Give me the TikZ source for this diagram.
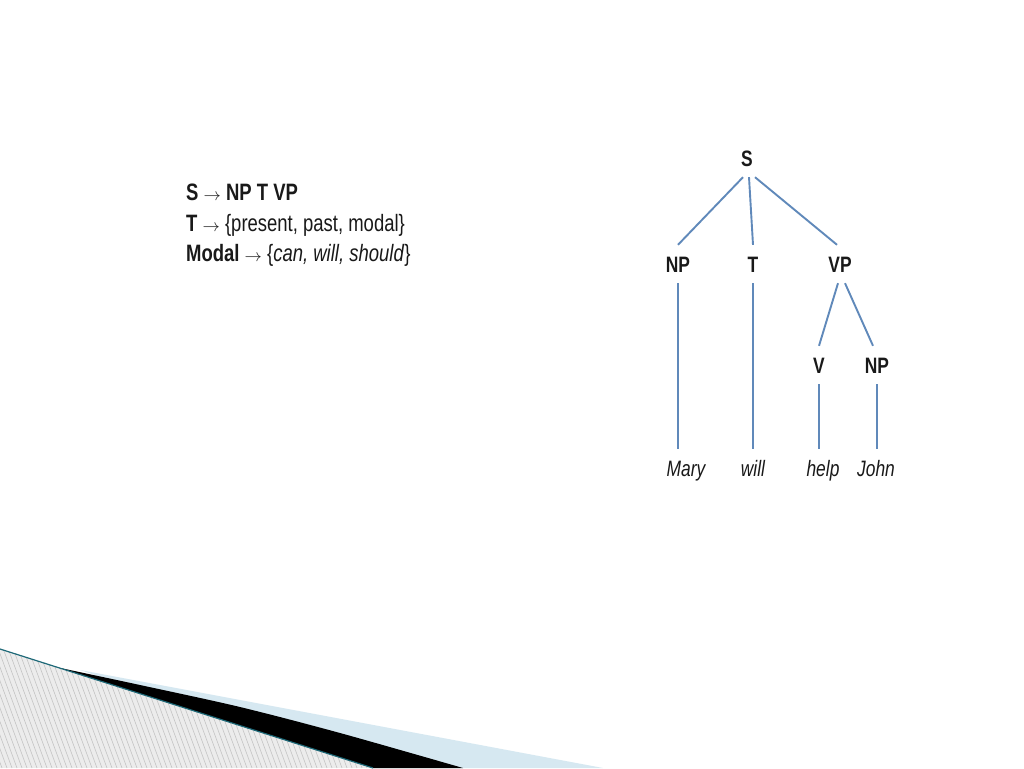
\documentclass[tikz,border=0pt]{standalone}
\usepackage{fontspec}
\newfontfamily\arialn[FakeStretch=0.78]{Liberation Sans}
\definecolor{treeblue}{RGB}{96,137,186}
\definecolor{txt}{RGB}{25,25,25}
\definecolor{hatchbg}{RGB}{236,236,236}
\definecolor{hatchln}{RGB}{196,196,196}
\definecolor{lightblue}{RGB}{214,232,241}
\definecolor{tealedge}{RGB}{30,105,120}
\tikzset{
  rule/.style={anchor=base west, inner sep=0pt, text=txt,
    font=\arialn\fontsize{23.7}{30}\selectfont},
  tlab/.style={text=txt, inner xsep=1pt, inner ysep=11pt,
    text height=16pt, text depth=0pt,
    font=\arialn\bfseries\fontsize{22.3}{22}\selectfont},
  tword/.style={tlab, font=\arialn\itshape\fontsize{22.3}{22}\selectfont},
  branch/.style={draw=treeblue, line width=1.9pt},
}
\newcommand{\ruar}{{\fontsize{17}{17}\selectfont$\rightarrow$}}
\begin{document}
\begin{tikzpicture}[x=1pt,y=-1pt]
\useasboundingbox (0,0) rectangle (1024,768);
\fill[white] (0,0) rectangle (1024,768);
% bottom-left decoration
\begin{scope}
  \clip (0,649) -- (373,768) -- (0,768) -- cycle;
  \fill[hatchbg] (0,640) rectangle (380,768);
  \foreach \i in {-60,-55,...,390} \draw[hatchln, line width=0.6pt] (\i,640) -- (\i+47,768);
\end{scope}
\fill[lightblue] (80,670) -- (603,768) -- (373,768) -- cycle;
\fill[black] plot[smooth] coordinates {(58,667.5) (140,685) (240,707) (340,733) (463,768)} -- (373,768) -- cycle;
\draw[tealedge, line width=1.2pt] (0,649) -- (373,768);
% rules
\node[rule] (r1) at (186,200.5) {\textbf{S} \ruar{} \textbf{NP T VP}};
\node[rule] (r2) at (186,231) {\textbf{T} \ruar{} \{present, past, modal\}};
\node[rule] (r3) at (186,261.5) {\textbf{Modal} \ruar{} \{\textit{can, will, should}\}};
% tree
\node[tlab] (S) at (747,158) {S};
\node[tlab] (NP) at (678,264) {NP};
\node[tlab] (T) at (753,264) {T};
\node[tlab] (VP) at (840,264) {VP};
\node[tlab] (V) at (819,365) {V};
\node[tlab] (NPb) at (877,365) {NP};
\node[tword] (Mary) at (686,468.5) {Mary};
\node[tword] (will) at (753,468.5) {will};
\node[tword] (help) at (823,468.5) {help};
\node[tword] (John) at (876,468.5) {John};
\draw[branch] ([xshift=-4pt]S.south) -- (NP.north);
\draw[branch] ([xshift=2pt]S.south) -- (T.north);
\draw[branch] ([xshift=8pt]S.south) -- ([xshift=-3pt]VP.north);
\draw[branch] (NP.south) -- (NP.south |- Mary.north);
\draw[branch] (T.south) -- (T.south |- will.north);
\draw[branch] ([xshift=-2pt]VP.south) -- (V.north);
\draw[branch] ([xshift=5pt]VP.south) -- ([xshift=-4pt]NPb.north);
\draw[branch] (V.south) -- (V.south |- help.north);
\draw[branch] (NPb.south) -- (NPb.south |- John.north);
\end{tikzpicture}
\end{document}
